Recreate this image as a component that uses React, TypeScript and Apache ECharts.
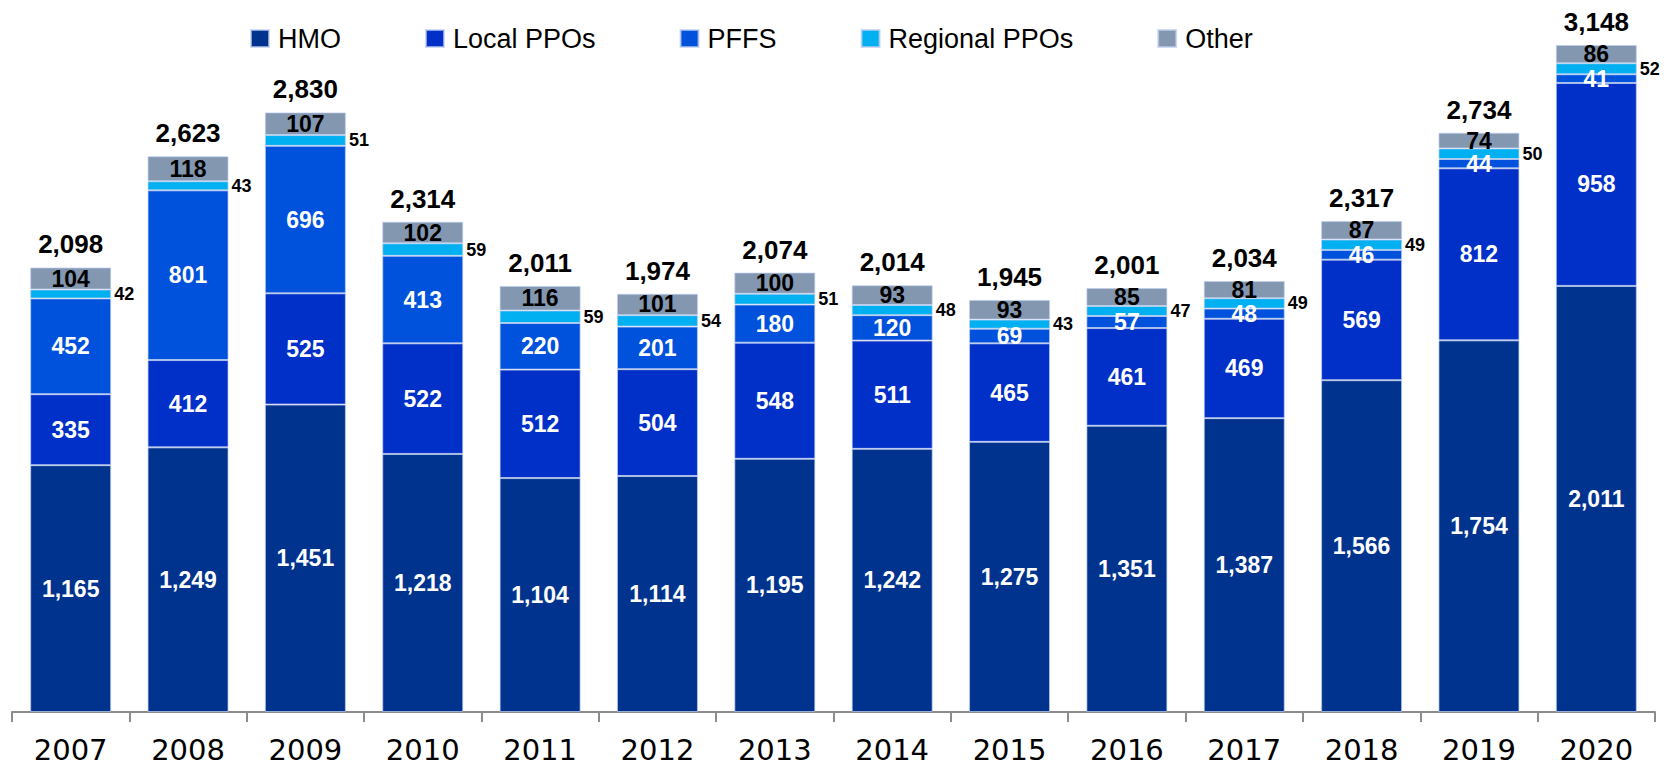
import React, { useEffect, useRef } from "react";
import * as echarts from "echarts";

const years = ["2007", "2008", "2009", "2010", "2011", "2012", "2013", "2014", "2015", "2016", "2017", "2018", "2019", "2020"];
const hmo = [1165, 1249, 1451, 1218, 1104, 1114, 1195, 1242, 1275, 1351, 1387, 1566, 1754, 2011];
const localPPOs = [335, 412, 525, 522, 512, 504, 548, 511, 465, 461, 469, 569, 812, 958];
const pffs = [452, 801, 696, 413, 220, 201, 180, 120, 69, 57, 48, 46, 44, 41];
const regionalPPOs = [42, 43, 51, 59, 59, 54, 51, 48, 43, 47, 49, 49, 50, 52];
const other = [104, 118, 107, 102, 116, 101, 100, 93, 93, 85, 81, 87, 74, 86];
const totals = [2098, 2623, 2830, 2314, 2011, 1974, 2074, 2014, 1945, 2001, 2034, 2317, 2734, 3148];

const fmt = (v: number) => v.toLocaleString("en-US");
const LBL_FONT = "'Liberation Sans', Arial, sans-serif";

export default function App() {
  const ref = useRef<HTMLDivElement>(null);
  useEffect(() => {
    document.body.style.margin = "0";
    const chart = echarts.init(ref.current!, null, { renderer: "svg" });
    const border = { borderColor: "rgba(190,205,240,0.7)", borderWidth: 1 };
    const inLabel = (color: string) => ({
      show: true,
      position: "inside",
      color,
      fontSize: 23,
      fontWeight: "bold",
      fontFamily: LBL_FONT,
      formatter: (p: any) => fmt(p.value),
    });
    chart.setOption({
      animation: false,
      backgroundColor: "#ffffff",
      legend: {
        data: ["HMO", "Local PPOs", "PFFS", "Regional PPOs", "Other"],
        left: 245,
        top: 20,
        icon: "rect",
        itemWidth: 18,
        itemHeight: 17,
        itemGap: 84,
        textStyle: { fontSize: 27, fontFamily: LBL_FONT, color: "#000", padding: [0, 0, 0, 4] },
      },
      grid: { left: 12, right: 18, top: 34, bottom: 59, containLabel: false },
      xAxis: {
        type: "category",
        data: years,
        boundaryGap: true,
        axisLine: { lineStyle: { color: "#8c8c8c", width: 2 } },
        axisTick: { show: true, length: 10, lineStyle: { color: "#8c8c8c", width: 2 } },
        axisLabel: { fontSize: 29, color: "#000", margin: 23, fontFamily: "'DejaVu Sans', sans-serif" },
      },
      yAxis: { type: "value", min: 0, max: 3200, show: false, splitLine: { show: false } },
      series: [
        {
          name: "HMO", type: "bar", stack: "s", barWidth: "69%", data: hmo,
          itemStyle: { color: "#00338D", ...border }, label: inLabel("#fff"),
        },
        {
          name: "Local PPOs", type: "bar", stack: "s", data: localPPOs,
          itemStyle: { color: "#0030C8", ...border }, label: inLabel("#fff"),
        },
        {
          name: "PFFS", type: "bar", stack: "s", data: pffs,
          itemStyle: { color: "#0052DC", ...border }, label: inLabel("#fff"),
        },
        {
          name: "Regional PPOs", type: "bar", stack: "s", data: regionalPPOs,
          itemStyle: { color: "#00B0F0", ...border },
          label: {
            show: true, position: "right", distance: 3, color: "#000", fontSize: 18,
            fontWeight: "bold", fontFamily: LBL_FONT,
          },
        },
        {
          name: "Other", type: "bar", stack: "s", data: other,
          itemStyle: { color: "#8497B0", ...border }, label: inLabel("#000"),
        },
        {
          name: "Total", type: "bar", stack: "s", data: totals.map(() => 0),
          itemStyle: { color: "transparent" }, silent: true,
          label: {
            show: true, position: "top", distance: 10, color: "#000", fontSize: 26,
            fontWeight: "bold", fontFamily: LBL_FONT,
            formatter: (p: any) => fmt(totals[p.dataIndex]),
          },
        },
      ],
    });
    return () => chart.dispose();
  }, []);
  return <div ref={ref} style={{ width: "100vw", height: "100vh" }} />;
}
